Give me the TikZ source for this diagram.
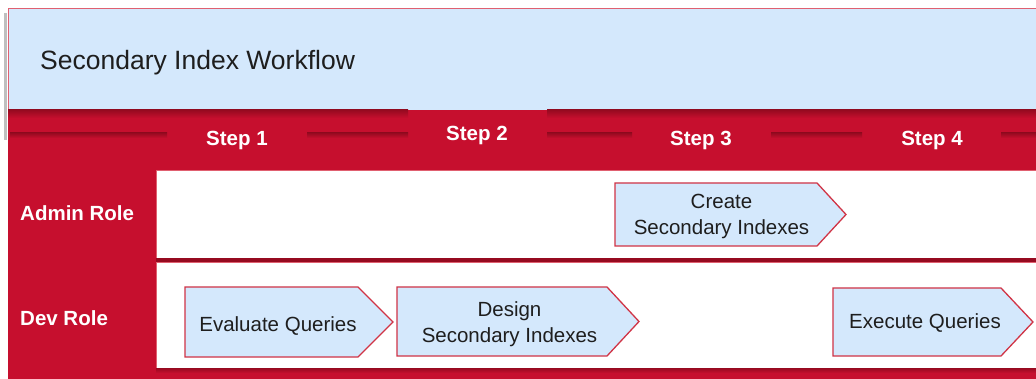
\documentclass[tikz,border=0pt]{standalone}
\usepackage{fontspec}
\setmainfont{Liberation Sans}
\definecolor{wfred}{RGB}{198,15,46}
\definecolor{wfdark}{RGB}{150,10,32}
\definecolor{hdrblue}{RGB}{212,232,252}
\definecolor{chevline}{RGB}{208,52,70}
\definecolor{lanered}{RGB}{224,96,112}
\definecolor{txtgray}{RGB}{30,30,30}
\tikzset{
  lanebox/.style={fill=white, draw=lanered, line width=0.8pt, anchor=north west, inner sep=0pt},
  chevshape/.style={fill=hdrblue, draw=chevline, line width=1.3pt, line join=miter},
  chevtext/.style={font=\fontsize{20.5}{26}\selectfont, text=txtgray, inner sep=0pt, align=center},
  steptext/.style={font=\bfseries\fontsize{20.5}{24}\selectfont, text=white, inner sep=0pt, anchor=base},
  roletext/.style={font=\bfseries\fontsize{20.5}{24}\selectfont, text=white, inner sep=0pt, anchor=base west},
  darkstrip/.style={top color=wfdark, bottom color=wfred}
}
\newcommand\chevpath[5]{%
  \path[chevshape] (#1,#4) -- (#2,#4) -- (#3,{(#4+#5)/2}) -- (#2,#5) -- (#1,#5) -- cycle;}
\begin{document}
\begin{tikzpicture}[x=1pt,y=-1pt]
\useasboundingbox (0,0) rectangle (1036,379);
% left grey edge
\fill[black!25] (4,13) rectangle (6.5,140);
% header
\fill[hdrblue] (8,9) rectangle (1036,110);
\draw[lanered, line width=1pt] (1036,9) -- (8,9) -- (8,110);
\node[anchor=base west, inner sep=0pt, text=txtgray, font=\fontsize{26.5}{30}\selectfont] (title) at (40,70) {Secondary Index Workflow};
% red body
\fill[wfred] (8,110) rectangle (1036,379);
\shade[darkstrip] (8,110) rectangle (408,118);
\shade[darkstrip] (547,110) rectangle (1036,118);
\foreach \a/\b in {10/167,307/408,547/632,771/862,1001/1036}
  \shade[darkstrip] (\a,133) rectangle (\b,138);
% step labels
\node[steptext] (s1) at (237,146) {Step 1};
\node[steptext] (s2) at (477,141) {Step 2};
\node[steptext] (s3) at (701,146) {Step 3};
\node[steptext] (s4) at (932,146) {Step 4};
% lanes
\node[lanebox, minimum width=885pt, minimum height=89pt] (admin) at (156,170) {};
\node[lanebox, minimum width=885pt, minimum height=107pt] (dev) at (156,262) {};
\fill[wfdark] (156,258) rectangle (1036,262);
\shade[darkstrip] (156,368) rectangle (1036,373);
% role labels
\node[roletext] (adminlbl) at (20,220.5) {Admin Role};
\node[roletext] (devlbl) at (20,325.5) {Dev Role};
% chevrons
\chevpath{185}{358}{393}{287}{357}
\chevpath{397}{607}{639}{287}{356}
\chevpath{615}{817}{846}{183}{246}
\chevpath{833}{1001}{1033}{288}{356}
\node[chevtext, anchor=base] (eval) at (278,331) {Evaluate Queries};
\node[chevtext] (design) at (509.5,324.4) {Design\\Secondary Indexes};
\node[chevtext] (create) at (721.5,216.7) {Create\\Secondary Indexes};
\node[chevtext, anchor=base] (exec) at (925,328.5) {Execute Queries};
\end{tikzpicture}
\end{document}
